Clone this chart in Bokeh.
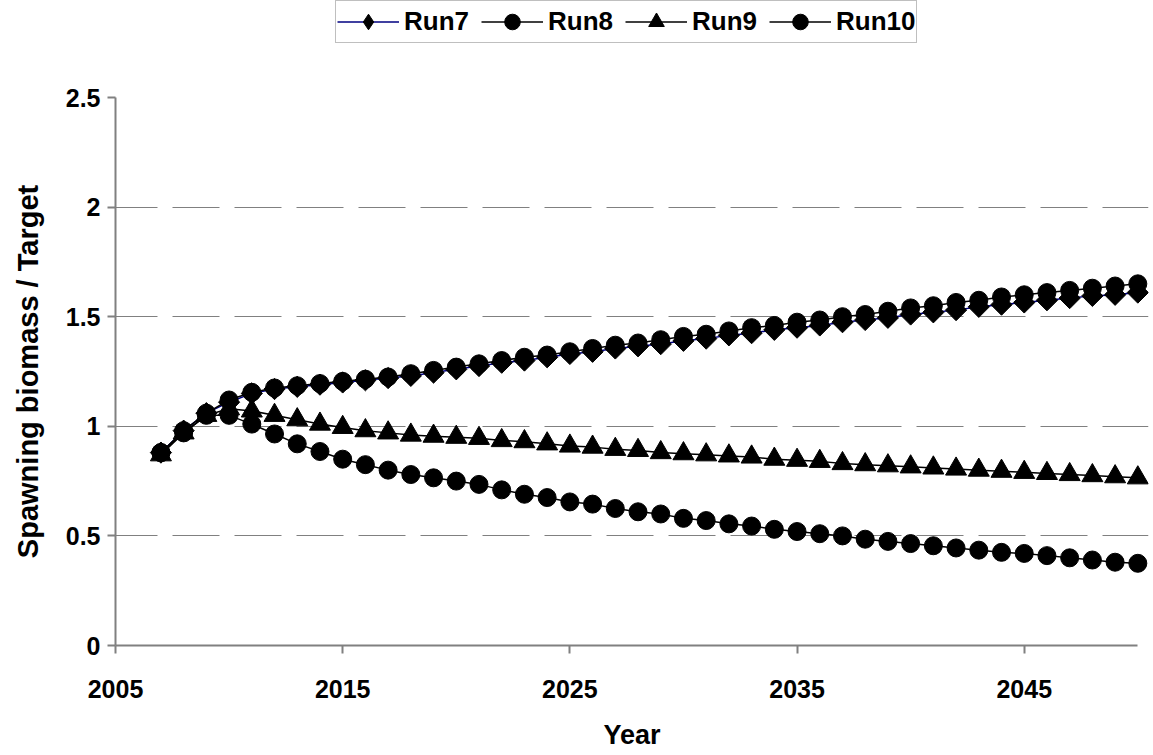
from bokeh.plotting import figure
from bokeh.layouts import column
from bokeh.models import Range1d, FixedTicker, Legend, LegendItem
from bokeh.embed import file_html
from bokeh.resources import INLINE
import math

years = list(range(2007, 2051))

run7 = [0.88, 0.98, 1.06, 1.11, 1.15, 1.17, 1.18, 1.19, 1.20, 1.21,
        1.22, 1.23, 1.245, 1.26, 1.275, 1.29, 1.30, 1.315, 1.33, 1.34,
        1.355, 1.365, 1.375, 1.39, 1.40, 1.415, 1.425, 1.44, 1.45, 1.46,
        1.475, 1.485, 1.495, 1.51, 1.52, 1.53, 1.545, 1.555, 1.565, 1.575,
        1.585, 1.595, 1.60, 1.61]

run8 = [0.88, 0.98, 1.06, 1.12, 1.155, 1.175, 1.185, 1.195, 1.205, 1.215,
        1.225, 1.24, 1.255, 1.27, 1.285, 1.30, 1.315, 1.325, 1.34, 1.355,
        1.37, 1.38, 1.395, 1.41, 1.42, 1.435, 1.45, 1.46, 1.475, 1.485,
        1.50, 1.51, 1.525, 1.54, 1.55, 1.565, 1.575, 1.59, 1.60, 1.61,
        1.62, 1.63, 1.64, 1.65]

run9 = [0.87, 0.97, 1.05, 1.08, 1.07, 1.05, 1.03, 1.01, 0.995, 0.98,
        0.97, 0.96, 0.955, 0.95, 0.945, 0.935, 0.93, 0.92, 0.91, 0.905,
        0.895, 0.89, 0.88, 0.875, 0.87, 0.865, 0.86, 0.85, 0.845, 0.84,
        0.83, 0.825, 0.82, 0.815, 0.81, 0.805, 0.80, 0.795, 0.79, 0.785,
        0.78, 0.775, 0.77, 0.765]

run10 = [0.88, 0.97, 1.05, 1.05, 1.01, 0.965, 0.92, 0.885, 0.85, 0.825,
         0.80, 0.78, 0.765, 0.75, 0.735, 0.71, 0.69, 0.675, 0.655, 0.645,
         0.625, 0.61, 0.60, 0.58, 0.57, 0.555, 0.545, 0.53, 0.52, 0.51,
         0.50, 0.485, 0.475, 0.465, 0.455, 0.445, 0.435, 0.425, 0.42, 0.41,
         0.40, 0.39, 0.38, 0.375]

series_names = ["Run7", "Run8", "Run9", "Run10"]
x_ticks = [2005, 2015, 2025, 2035, 2045]
y_ticks = [0, 0.5, 1, 1.5, 2, 2.5]
y_tick_labels = ["0", "0.5", "1", "1.5", "2", "2.5"]
grid_ticks = [0.5, 1, 1.5, 2]

FONT = "Liberation Sans"
AXIS_GRAY = "#808080"
LEG_H = 46

# ---------------- main chart ----------------
p = figure(width=1150, height=755 - LEG_H, output_backend="svg", toolbar_location=None,
           x_range=Range1d(2005, 2050.47), y_range=Range1d(0, 2.5),
           min_border_left=115, min_border_right=2, min_border_top=97 - LEG_H,
           min_border_bottom=110)
p.outline_line_color = None
p.background_fill_color = "white"
p.border_fill_color = "white"

p.xgrid.visible = False
p.ygrid.ticker = FixedTicker(ticks=grid_ticks)
p.ygrid.grid_line_color = AXIS_GRAY
p.ygrid.grid_line_width = 1
p.ygrid.grid_line_dash = "47 15"
p.ygrid.grid_line_dash_offset = 5

p.xaxis.ticker = FixedTicker(ticks=x_ticks)
p.yaxis.ticker = FixedTicker(ticks=y_ticks)
p.yaxis.major_label_overrides = dict(zip(y_ticks, y_tick_labels))
p.xaxis.bounds = (2005, 2050)
p.yaxis.bounds = (0, 2.5)
p.xaxis.axis_label = "Year"
p.yaxis.axis_label = "Spawning biomass / Target"

for ax in (p.xaxis[0], p.yaxis[0]):
    ax.axis_line_color = AXIS_GRAY
    ax.axis_line_width = 2
    ax.major_tick_line_color = AXIS_GRAY
    ax.major_tick_line_width = 2
    ax.major_tick_in = 0
    ax.major_tick_out = 8
    ax.minor_tick_line_color = None
    ax.major_label_text_font = FONT
    ax.major_label_text_font_style = "bold"
    ax.major_label_text_font_size = "25px"
    ax.major_label_text_color = "black"
    ax.axis_label_text_font = FONT
    ax.axis_label_text_font_style = "bold"
    ax.axis_label_text_font_size = "27px"
    ax.axis_label_text_color = "black"

p.yaxis.axis_label_text_font_size = "29px"
p.xaxis.major_label_standoff = 26
p.xaxis.axis_label_standoff = 19
p.yaxis.major_label_standoff = 7
p.yaxis.axis_label_standoff = 19

MARKERS = [dict(marker="square", angle=math.pi / 4, size=15),
           dict(marker="circle", size=18),
           dict(marker="triangle", size=21),
           dict(marker="circle", size=18)]
LINE_COLORS = ["#000080", "black", "black", "black"]
SERIES = [run7, run8, run9, run10]

for vals, lc, mk in zip(SERIES, LINE_COLORS, MARKERS):
    p.line(years, vals, line_color=lc, line_width=1.5)
    p.scatter(years, vals, fill_color="black", line_color="black", **mk)

# ---------------- legend strip above the chart ----------------
lf = figure(width=1150, height=LEG_H, output_backend="svg", toolbar_location=None,
            x_range=Range1d(2005, 2050), y_range=Range1d(0, 2.5),
            x_axis_type=None, y_axis_type=None,
            min_border_left=0, min_border_right=0, min_border_top=0,
            min_border_bottom=0)
lf.outline_line_color = None
lf.xgrid.visible = False
lf.ygrid.visible = False
lf.background_fill_color = "white"
lf.border_fill_color = "white"

LEG_MARKERS = ["diamond", "circle", "triangle", "circle"]
items = []
for name, vals, lc, lm in zip(series_names, SERIES, LINE_COLORS, LEG_MARKERS):
    lr = lf.line(years, vals, line_color=lc, line_width=1.5, visible=False)
    sr = lf.scatter(years, vals, marker=lm, size=18, fill_color="black",
                    line_color="black", visible=False)
    items.append(LegendItem(label=name, renderers=[lr, sr]))

# the column aligns this strip's frame with the chart frame (x = 115)
legend = Legend(items=items, orientation="horizontal", location=(220, 3))
legend.border_line_color = AXIS_GRAY
legend.border_line_width = 1
legend.background_fill_color = "white"
legend.background_fill_alpha = 1
legend.padding = 1
legend.spacing = 12
legend.label_standoff = 5
legend.glyph_width = 62
legend.glyph_height = 39
legend.margin = 0
legend.label_text_font = FONT
legend.label_text_font_style = "bold"
legend.label_text_font_size = "26px"
legend.label_text_color = "black"
lf.add_layout(legend)

layout = column(lf, p, spacing=0)
open("out.html", "w").write(file_html(layout, INLINE))
